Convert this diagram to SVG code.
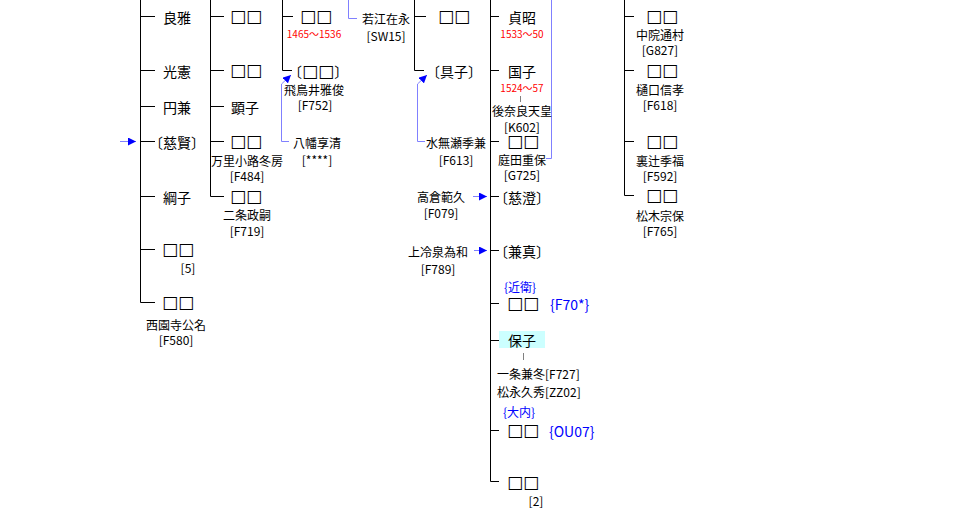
<svg xmlns="http://www.w3.org/2000/svg" width="963" height="522" viewBox="0 0 963 522">
<style>
text{font-family:"Noto Sans CJK JP","Noto Sans",sans-serif;fill:#000;dominant-baseline:central}
.m{font-size:14px}
.sq{font-family:"DejaVu Sans","Noto Sans CJK JP",sans-serif;font-size:17px;font-weight:bold;fill:#000}
.s{font-size:12px;text-anchor:middle}
.sl{font-size:12px}
.r{font-size:10px;fill:#ff0000;text-anchor:middle}
.b{font-size:14px;fill:#0000ff}
.bs{font-size:12px;fill:#0000ff;text-anchor:middle}
.tree{stroke:#000;stroke-width:1;fill:none}
.link{stroke:#8080ff;stroke-width:1;fill:none}
.gray{stroke:#808080;stroke-width:1}
</style>
<defs>
<marker id="ah" viewBox="0 0 8 8" refX="8" refY="4" markerWidth="8" markerHeight="8" markerUnits="userSpaceOnUse" orient="auto">
<path d="M0,0 L8,4 L0,8 z" fill="#0000ff"/>
</marker>
</defs>
<rect width="963" height="522" fill="#fff"/>
<g id="connectors">
<path class="tree" d="M140.5,0 V302.5 H155 M140.5,16.5 H155 M140.5,70.5 H155 M140.5,106.5 H155 M140.5,141.5 H155 M140.5,196.5 H155 M140.5,249.5 H155"/>
<path class="tree" d="M210.5,0 V196.5 H224 M210.5,16.5 H224 M210.5,70.5 H224 M210.5,106.5 H224 M210.5,141.5 H224"/>
<path class="tree" d="M282.5,0 V70.5 H292 M282.5,16.5 H293"/>
<path class="tree" d="M414.5,0 V70.5 H424 M414.5,16.5 H426"/>
<path class="tree" d="M490.5,0 V481.5 H499 M490.5,16.5 H499 M490.5,70.5 H499 M490.5,141.5 H499 M490.5,196.5 H499 M490.5,250.5 H499 M490.5,303.5 H499 M490.5,340.5 H499 M490.5,430.5 H499"/>
<path class="tree" d="M624.5,0 V195.5 H634 M624.5,16.5 H634 M624.5,70.5 H634 M624.5,141.5 H634"/>
<line class="gray" x1="520.5" y1="96" x2="520.5" y2="102"/>
<line class="gray" x1="523.5" y1="353" x2="523.5" y2="360"/>
<path class="link" d="M348.5,0 V18.5 H357"/>
<path class="link" d="M546,158.5 H551.5 V0"/>
<polyline class="link" points="120,141.5 136,141.5" marker-end="url(#ah)"/>
<polyline class="link" points="473,196.5 487,196.5" marker-end="url(#ah)"/>
<polyline class="link" points="474,250.5 487,250.5" marker-end="url(#ah)"/>
<polyline class="link" points="289,141.5 281.5,141.5 281.5,84 291,75" marker-end="url(#ah)"/>
<polyline class="link" points="425,141.5 417.5,141.5 417.5,84 427,75" marker-end="url(#ah)"/>
</g>
<g id="col1">
<g id="n-yoshimasa"><text class="m" x="163" y="17">良雅</text></g>
<g id="n-mitsunori"><text class="m" x="163" y="71">光憲</text></g>
<g id="n-enken"><text class="m" x="163" y="107">円兼</text></g>
<g id="n-jiken"><text class="m" x="149" y="142">〔慈賢〕</text></g>
<g id="n-tsunako"><text class="m" x="163" y="197">綱子</text></g>
<g id="n-c1a"><text class="sq" x="162" y="249">□□</text><text class="s" x="188" y="267">[5]</text></g>
<g id="n-c1b"><text class="sq" x="162" y="302">□□</text><text class="s" x="176" y="324">西園寺公名</text><text class="s" x="176" y="339">[F580]</text></g>
</g>
<g id="col2">
<g id="n-c2a"><text class="sq" x="230" y="16">□□</text></g>
<g id="n-c2b"><text class="sq" x="230" y="70">□□</text></g>
<g id="n-akiko"><text class="m" x="231" y="107">顕子</text></g>
<g id="n-c2c"><text class="sq" x="230" y="141">□□</text><text class="s" x="247" y="160">万里小路冬房</text><text class="s" x="247" y="175">[F484]</text></g>
<g id="n-c2d"><text class="sq" x="230" y="196">□□</text><text class="s" x="247" y="214">二条政嗣</text><text class="s" x="247" y="230">[F719]</text></g>
</g>
<g id="col3">
<g id="n-c3a"><text class="sq" x="300" y="16">□□</text><text class="r" x="314" y="33">1465～1536</text></g>
<g id="n-c3b"><text class="m" x="288" y="71">〔<tspan class="sq">□□</tspan>〕</text><text class="s" x="314" y="89">飛鳥井雅俊</text><text class="s" x="315" y="104">[F752]</text></g>
<g id="n-yawata"><text class="s" x="317" y="142">八幡享清</text><text class="s" x="317" y="159">[****]</text></g>
<g id="n-wakae"><text class="sl" x="362" y="18">若江在永</text><text class="s" x="386" y="35">[SW15]</text></g>
</g>
<g id="col4">
<g id="n-c4a"><text class="sq" x="438" y="16">□□</text></g>
<g id="n-tomoko"><text class="m" x="426" y="71">〔具子〕</text></g>
<g id="n-minase"><text class="s" x="456" y="142">水無瀬季兼</text><text class="s" x="456" y="159">[F613]</text></g>
<g id="n-takakura"><text class="s" x="441" y="196">高倉範久</text><text class="s" x="441" y="212">[F079]</text></g>
<g id="n-kamireizei"><text class="s" x="438" y="251">上冷泉為和</text><text class="s" x="438" y="268">[F789]</text></g>
</g>
<g id="col5">
<g id="n-sadaaki"><text class="m" x="508" y="17">貞昭</text><text class="r" x="522" y="33">1533～50</text></g>
<g id="n-kuniko"><text class="m" x="508" y="71">国子</text><text class="r" x="522" y="87">1524～57</text><text class="s" x="522" y="110">後奈良天皇</text><text class="s" x="522" y="126">[K602]</text></g>
<g id="n-c5a"><text class="sq" x="507" y="141">□□</text><text class="s" x="522" y="159">庭田重保</text><text class="s" x="522" y="174">[G725]</text></g>
<g id="n-jicho"><text class="m" x="494" y="197">〔慈澄〕</text></g>
<g id="n-kenshin"><text class="m" x="494" y="251">〔兼真〕</text></g>
<g id="n-c5b"><text class="bs" x="520" y="286">{近衛}</text><text class="sq" x="507" y="303">□□</text><text class="b" x="550" y="304">{F70*}</text></g>
<g id="n-yasuko"><rect x="499" y="331" width="46" height="17" fill="#ccffff"/><text class="m" x="522" y="340" text-anchor="middle">保子</text><text class="sl" x="497" y="373">一条兼冬[F727]</text><text class="sl" x="497" y="391">松永久秀[ZZ02]</text></g>
<g id="n-c5c"><text class="bs" x="519" y="411">{大内}</text><text class="sq" x="507" y="430">□□</text><text class="b" x="549" y="431">{OU07}</text></g>
<g id="n-c5d"><text class="sq" x="507" y="482">□□</text><text class="s" x="536" y="500">[2]</text></g>
</g>
<g id="col6">
<g id="n-c6a"><text class="sq" x="646" y="16">□□</text><text class="s" x="660" y="34">中院通村</text><text class="s" x="660" y="49">[G827]</text></g>
<g id="n-c6b"><text class="sq" x="646" y="70">□□</text><text class="s" x="660" y="89">樋口信孝</text><text class="s" x="660" y="104">[F618]</text></g>
<g id="n-c6c"><text class="sq" x="646" y="141">□□</text><text class="s" x="660" y="160">裏辻季福</text><text class="s" x="660" y="175">[F592]</text></g>
<g id="n-c6d"><text class="sq" x="646" y="195">□□</text><text class="s" x="660" y="215">松木宗保</text><text class="s" x="660" y="230">[F765]</text></g>
</g>
</svg>
